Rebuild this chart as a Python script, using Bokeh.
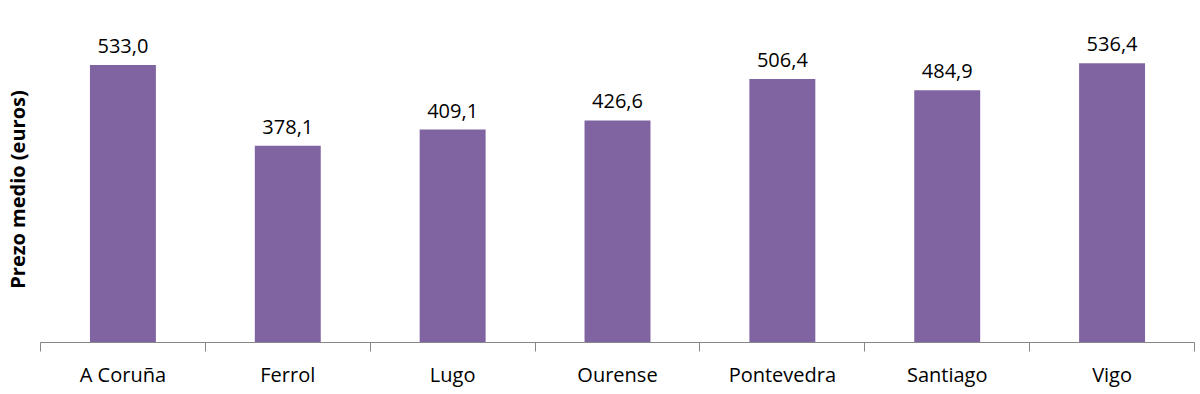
from bokeh.plotting import figure
from bokeh.models import Range1d, FixedTicker, ColumnDataSource
from bokeh.core.properties import value
from bokeh.embed import file_html
from bokeh.resources import INLINE

categories = ["A Coruña", "Ferrol", "Lugo", "Ourense", "Pontevedra", "Santiago", "Vigo"]
prices = [533.0, 378.1, 409.1, 426.6, 506.4, 484.9, 536.4]
y_label = "Prezo medio (euros)"

n = len(categories)
xs = [i + 0.5 for i in range(n)]
labels = [f"{v:.1f}".replace(".", ",") for v in prices]
src = ColumnDataSource(dict(x=xs, y=prices, lab=labels))

p = figure(width=1200, height=394, output_backend="svg", toolbar_location=None,
           x_range=Range1d(0, n), y_range=Range1d(0, 588),
           min_border_left=39, min_border_right=6, min_border_top=36, min_border_bottom=52)
p.outline_line_color = None
p.xgrid.visible = False
p.ygrid.visible = False
p.background_fill_color = "white"
p.border_fill_color = "white"

p.vbar(x="x", top="y", width=0.4, bottom=0, source=src, fill_color="#8064A2", line_color=None)
p.text(x="x", y="y", text="lab", source=src, text_align="center", text_baseline="bottom",
       y_offset=-12, text_font=value("Open Sans"), text_font_size="20px", text_color="#000000")

xa = p.xaxis[0]
xa.ticker = FixedTicker(ticks=xs, minor_ticks=list(range(n + 1)))
xa.major_label_overrides = {x: c for x, c in zip(xs, categories)}
xa.major_tick_out = 0
xa.major_tick_in = 0
xa.minor_tick_out = 9
xa.minor_tick_in = 0
xa.minor_tick_line_color = "#868686"
xa.axis_line_color = "#868686"
xa.major_label_text_font = "Open Sans"
xa.major_label_text_font_size = "20px"
xa.major_label_text_color = "#000000"
xa.major_label_standoff = 9

ya = p.yaxis[0]
ya.ticker = FixedTicker(ticks=[])
ya.axis_line_color = None
ya.major_tick_out = 0
ya.minor_tick_out = 0
ya.axis_label = y_label
ya.axis_label_text_font = "Open Sans"
ya.axis_label_text_font_style = "bold"
ya.axis_label_text_font_size = "20px"
ya.axis_label_text_color = "#000000"
ya.axis_label_standoff = 10

open("out.html", "w").write(file_html(p, INLINE))
